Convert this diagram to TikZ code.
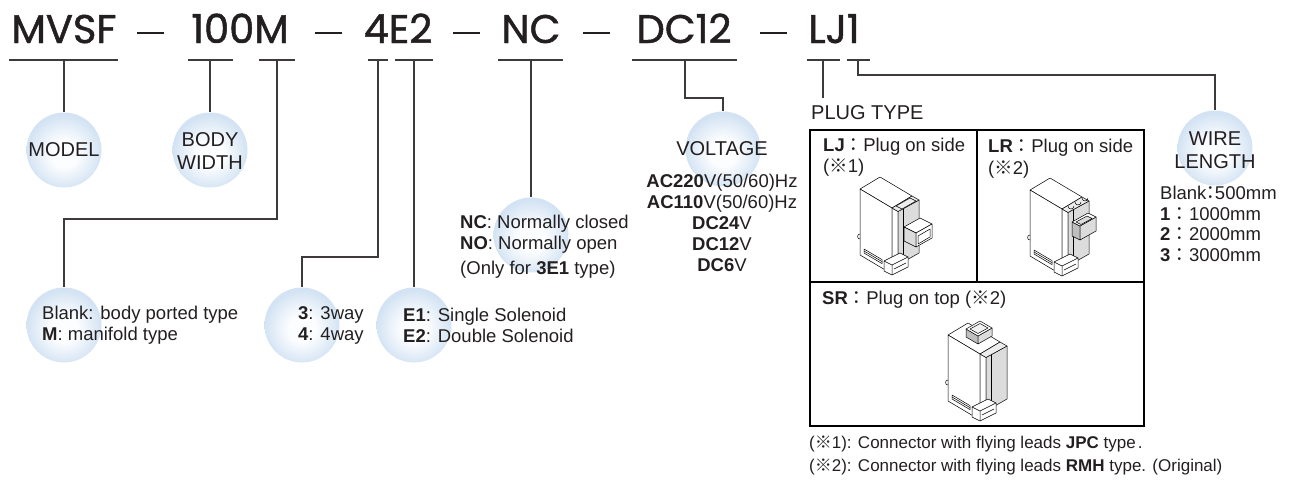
\documentclass[tikz,border=0pt]{standalone}
\usepackage{fontspec}
\setmainfont{Liberation Sans}
\newfontfamily\titlefont[FakeBold=1.2]{Poppins}
\newfontfamily\cjk{Noto Sans CJK JP}
\definecolor{ink}{RGB}{35,31,32}
\definecolor{wire}{RGB}{62,58,57}
\definecolor{ballin}{RGB}{252,253,255}
\definecolor{ballout}{RGB}{211,227,243}
\definecolor{coil}{RGB}{220,220,220}
\definecolor{coildk}{RGB}{190,190,190}
\pgfdeclareradialshading{softball}{\pgfpoint{0bp}{-3bp}}{color(0bp)=(ballin); color(9bp)=(ballin); color(25bp)=(ballout); color(50bp)=(ballout)}

\newcommand\plugbase{%
  \filldraw[pl, fill=white] (0,0) -- (20,-12) -- (52,7) -- (32,19) -- cycle;
  \filldraw[pl, fill=white] (0,0) -- (32,19) -- (32,85) -- (0,66) -- cycle;
  \draw[pl] (0,50) arc[start angle=90, end angle=270, radius=2.5];
  \draw[pl] (4,60) -- (22,70.6) -- (22,74.6) -- (4,64) -- cycle;
  \draw[pl] (4,62) -- (22,72.6);
  \filldraw[pl, fill=white] (32,19) -- (38,22.5) -- (38,76) -- (32,72) -- cycle;
  \filldraw[pl, fill=coil] (38,22.5) -- (59,11) -- (59,64) -- (38,76) -- cycle;
  \filldraw[pl, fill=coil!50] (32,19) -- (52,7) -- (59,11) -- (38,22.5) -- cycle;
  \draw[pl] (43,20) -- (43,73);
  \filldraw[pl, fill=white] (24,72) -- (40,64) -- (48,68) -- (48,78) -- (32,86) -- (24,82) -- cycle;
  \draw[pl] (24,72) -- (32,76) -- (48,68) (32,76) -- (32,86);
  \draw[pl] (34,80) -- (46,74);
}

\tikzset{
  title/.style={font=\titlefont\fontsize{40}{40}\selectfont, text=ink, inner sep=0pt, anchor=base},
  ball/.style={circle, minimum size=75pt, inner sep=0pt, shading=softball},
  blabel/.style={font=\fontsize{20}{23}\selectfont, text=ink, align=center, inner sep=0pt},
  body/.style={font=\fontsize{18.5}{21}\selectfont, text=ink, align=left, inner sep=0pt, anchor=west},
  foot/.style={font=\fontsize{17}{20}\selectfont, text=ink, inner sep=0pt, anchor=west},
  conn/.style={draw=wire, line width=1.3pt},
  uline/.style={draw=wire, line width=1.4pt},
  tdash/.style={draw=ink, line width=1.8pt},
  frame/.style={draw=black, line width=2.4pt},
  divider/.style={draw=black, line width=1.3pt},
  pl/.style={draw=black, line width=0.5pt, line join=round},
}

\begin{document}
\begin{tikzpicture}[x=1pt, y=-1pt]
\useasboundingbox (0,0) rectangle (1301,480);

% title
\node[title] (tMVSF) at (64,43) {MVSF};
\node[title] (t100M) at (240,43) {100M};
\node[title] (t4E2) at (398,43) {4E2};
\node[title] (tNC) at (531,43) {NC};
\node[title] (tDC12) at (684,43) {DC12};
\node[title] (tLJ1) at (834,43) {LJ1};
\draw[tdash] (137,33) -- (164,33);
\draw[tdash] (315,33) -- (342,33);
\draw[tdash] (453,33) -- (480,33);
\draw[tdash] (583,33) -- (610,33);
\draw[tdash] (760,33) -- (787,33);

% underlines
\draw[uline] (9,60) -- (118,60);
\draw[uline] (188,60) -- (233,60);
\draw[uline] (259,60) -- (295,60);
\draw[uline] (368,60) -- (388,60);
\draw[uline] (395,60) -- (433,60);
\draw[uline] (498,60) -- (563,60);
\draw[uline] (632,60) -- (737,60);
\draw[uline] (807,60) -- (840,60);
\draw[uline] (847,60) -- (870,60);

\coordinate (uMVSF) at (64,60);
\coordinate (uBody) at (210,60);
\coordinate (uM) at (277,60);
\coordinate (u4) at (378,60);
\coordinate (uE) at (414,60);
\coordinate (uNC) at (531,60);
\coordinate (uDC) at (685,60);
\coordinate (uLJ) at (823,60);
\coordinate (u1) at (858,60);
\coordinate (jM) at (64,219);
\coordinate (j4) at (302,257);
\coordinate (jDC) at (723,98);
\coordinate (j1) at (1215,75);
\coordinate (pEnd) at (823,98);

% balls
\node[ball] (cModel) at (64,150) {};
\node[ball] (cBody) at (210,150) {};
\node[ball] (cVolt) at (723,149) {};
\node[ball] (cWire) at (1215,148) {};
\node[ball] (cBlank) at (64,325) {};
\node[ball] (cWay) at (302,325) {};
\node[ball] (cSol) at (414,325) {};
\node[ball] (cNC) at (531,235) {};

% connectors
\draw[conn] (uMVSF) -- (cModel.north);
\draw[conn] (uBody) -- (cBody.north);
\draw[conn] (uM) |- (jM) -- (cBlank.north);
\draw[conn] (u4) |- (j4) -- (cWay.north);
\draw[conn] (uE) -- (cSol.north);
\draw[conn] (uNC) -- (cNC.north);
\draw[conn] (uDC) |- (jDC) -- (cVolt.north);
\draw[conn] (uLJ) -- (pEnd);
\draw[conn] (u1) |- (j1) -- (cWire.north);

% ball labels
\node[blabel] (lModel) at (64,150) {MODEL};
\node[blabel] (lBody) at (210,151) {BODY\\WIDTH};
\node[blabel] (lVolt) at (722,149) {VOLTAGE};
\node[blabel] (lWire) at (1215,150) {WIRE\\LENGTH};

% option texts
\node[body] (tBlank) at (42,325) {Blank: body ported type\\\textbf{M}: manifold type};
\node[body] (tWay) at (298,325) {\textbf{3}: 3way\\\textbf{4}: 4way};
\node[body] (tSol) at (403,325) {\textbf{E1}: Single Solenoid\\\textbf{E2}: Double Solenoid};
\node[body] (tNCo) at (460,234) {\textbf{NC}: Normally closed\\\textbf{NO}: Normally open};
\node[body] (tNCn) at (460,270) {(Only for \textbf{3E1} type)};
\node[body, align=center, anchor=center] (tVolt) at (722,223) {\textbf{AC220}V(50/60)Hz\\\textbf{AC110}V(50/60)Hz\\\textbf{DC24}V\\\textbf{DC12}V\\\textbf{DC6}V};
\node[body, font=\fontsize{18.5}{20.7}\selectfont] (tWire) at (1160,224) {Blank\kern-5pt{\cjk ：}\kern-5pt500mm\\\textbf{1}{\cjk ：}1000mm\\\textbf{2}{\cjk ：}2000mm\\\textbf{3}{\cjk ：}3000mm};

% plug type
\node[body, font=\fontsize{20}{24}\selectfont] (plugTitle) at (811,113) {PLUG TYPE};
\draw[frame] (810,130) rectangle (1144,426);
\draw[divider] (977,130) -- (977,282);
\draw[divider] (810,282) -- (1144,282);
\node[body] (ljLab) at (823,147) {\textbf{LJ}{\cjk ：}Plug on side};
\node[body] (ljNote) at (823,168) {({\cjk ※}1)};
\node[body] (lrLab) at (988,148) {\textbf{LR}{\cjk ：}Plug on side};
\node[body] (lrNote) at (988,170) {({\cjk ※}2)};
\node[body] (srLab) at (822,300) {\textbf{SR}{\cjk ：}Plug on top ({\cjk ※}2)};

% LJ drawing
\begin{scope}[shift={(860,189)}]
  \plugbase
  \filldraw[pl, fill=coil!50] (36,17) -- (50,9) -- (56,12) -- (42,20) -- cycle;
  \filldraw[pl, fill=white] (44,38) -- (60,29) -- (72,35) -- (56,44) -- cycle;
  \filldraw[pl, fill=coil] (44,38) -- (56,44) -- (56,58) -- (44,52) -- cycle;
  \filldraw[pl, fill=white] (56,44) -- (72,35) -- (72,49) -- (56,58) -- cycle;
  \draw[pl] (58,47) -- (70,40) -- (70,48) -- (58,55) -- cycle;
\end{scope}

% LR drawing
\begin{scope}[shift={(1030,190)}]
  \plugbase
  \draw[pl] (38,16) arc[start angle=180, end angle=0, radius=3];
  \draw[pl] (45,12) arc[start angle=180, end angle=0, radius=3];
  \draw[pl] (52,8) arc[start angle=180, end angle=0, radius=3];
  \filldraw[pl, fill=coildk] (42,32) -- (50,36) -- (50,50) -- (42,46) -- cycle;
  \filldraw[pl, fill=coil] (50,36) -- (66,27) -- (66,41) -- (50,50) -- cycle;
  \filldraw[pl, fill=white] (42,32) -- (58,23) -- (66,27) -- (50,36) -- cycle;
  \filldraw[pl, fill=coil] (46,32) -- (57,26) -- (62,28.5) -- (51,34.5) -- cycle;
\end{scope}

% SR drawing
\begin{scope}[shift={(948,335)}]
  \plugbase
  \filldraw[pl, fill=coildk] (18,-6) -- (30,1) -- (30,9) -- (18,2) -- cycle;
  \filldraw[pl, fill=coil] (30,1) -- (44,-7) -- (44,1) -- (30,9) -- cycle;
  \filldraw[pl, fill=white] (18,-6) -- (32,-14) -- (44,-7) -- (30,1) -- cycle;
  \filldraw[pl, fill=coil!40] (22,-6) -- (32,-11.5) -- (40,-7) -- (30,-1.5) -- cycle;
\end{scope}

% footnotes
\node[foot] (fn1) at (809,444) {({\cjk ※}1): Connector with flying leads \textbf{JPC} type\kern2pt.};
\node[foot] (fn2) at (809,467) {({\cjk ※}2): Connector with flying leads \textbf{RMH} type. (Original)};
\end{tikzpicture}
\end{document}
